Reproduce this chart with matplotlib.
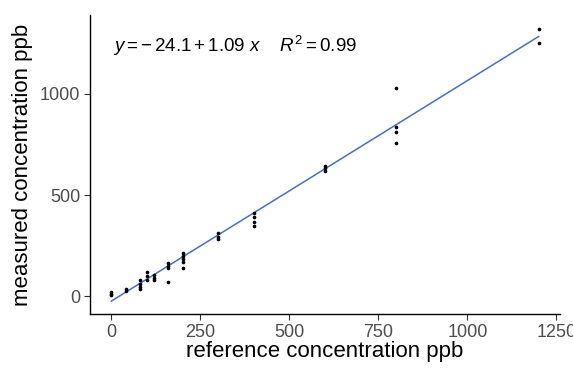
import matplotlib
matplotlib.use("Agg")
import matplotlib.pyplot as plt
import numpy as np

plt.rcParams['font.family'] = ['Liberation Sans', 'DejaVu Sans']
plt.rcParams['mathtext.fontset'] = 'custom'
plt.rcParams['mathtext.rm'] = 'Liberation Sans'
plt.rcParams['mathtext.it'] = 'Liberation Sans:italic'

# reference concentrations and measured values (ppb)
ref_x = [0, 0, 0,
         40, 40,
         80, 80, 80, 80,
         100, 100, 100,
         120, 120, 120,
         160, 160, 160, 160,
         200, 200, 200, 200, 200,
         300, 300, 300,
         400, 400, 400, 400,
         600, 600, 600,
         800, 800, 800, 800,
         1200, 1200]
meas_y = [20, 10, 5,
          35, 25,
          80, 60, 45, 35,
          120, 100, 80,
          105, 90, 80,
          165, 150, 140, 70,
          215, 200, 185, 170, 140,
          310, 295, 285,
          410, 390, 365, 345,
          645, 635, 620,
          1030, 837, 813, 759,
          1320, 1251]

intercept = -24.1
slope = 1.09
r_squared = 0.99

x_ticks = [0, 250, 500, 750, 1000, 1250]
y_ticks = [0, 500, 1000]

fig = plt.figure(figsize=(5.73, 3.69), dpi=100)
W, H = 573, 369
ax = fig.add_axes([90 / W, 1 - 314 / H, (560 - 90) / W, (314 - 15) / H])

xs = np.array([min(ref_x), max(ref_x)])
ax.plot(xs, intercept + slope * xs, color='#4670C8', lw=1.1, zorder=2)
ax.scatter(ref_x, meas_y, s=7, color='black', zorder=3, linewidths=0)

ax.set_xlim(-60, 1260)
ax.set_ylim(-88, 1390)
ax.set_xticks(x_ticks)
ax.set_yticks(y_ticks)
for s in ['top', 'right']:
    ax.spines[s].set_visible(False)
for s in ['left', 'bottom']:
    ax.spines[s].set_linewidth(1.0)
    ax.spines[s].set_color('black')
ax.tick_params(axis='both', length=4, width=0.8, color='#333333',
               labelcolor='#4D4D4D', labelsize=13, pad=3)

ax.set_xlabel('reference concentration ppb', fontsize=16, color='black', labelpad=0)
ax.set_ylabel('measured concentration ppb', fontsize=16, color='black', labelpad=5)

eq = (r"$\mathit{y} = -\,24.1 + 1.09\ \mathit{x}\quad\ \mathit{R}^2 = 0.99$")
fig.text(113 / W, 1 - 46 / H, eq, fontsize=13.5, color='black',
         ha='left', va='center')

fig.savefig('out.png', dpi=100)
